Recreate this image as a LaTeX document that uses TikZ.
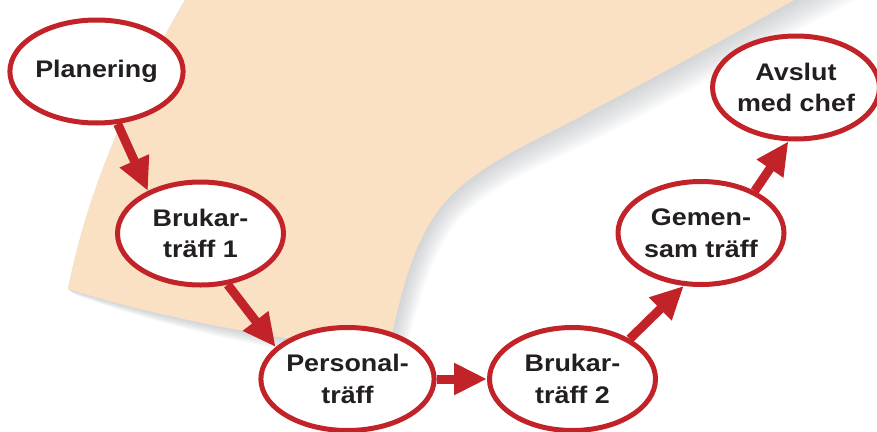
\documentclass[tikz,border=0pt]{standalone}
\usepackage{fontspec}
\setmainfont{Liberation Sans}[FakeStretch=1.12]
\usetikzlibrary{shapes.geometric,arrows.meta,calc}
\definecolor{peach}{RGB}{250,225,195}
\definecolor{redline}{RGB}{193,35,40}
\definecolor{shadowc}{RGB}{160,164,170}
\definecolor{txt}{RGB}{35,31,32}
\tikzset{
  stage/.style={ellipse, draw=redline, line width=5pt, fill=white,
    minimum width=166pt, minimum height=103pt, inner sep=0pt, align=center,
    text=txt, font=\fontsize{24}{31.5}\selectfont\bfseries},
  flow/.style={draw=redline, line width=9pt, -{Triangle[length=33pt,width=30pt]}}
}
\begin{document}
\begin{tikzpicture}[x=1pt,y=-1pt]
\useasboundingbox (0,0) rectangle (877,431);
\clip (0,0) rectangle (877,431);
% paper control points
\coordinate (A) at (188,-5);
\coordinate (B) at (68,289);   \coordinate (Bs) at (76,295);
\coordinate (b1) at (160,318); \coordinate (b1s) at (165,328);
\coordinate (b2) at (280,340); \coordinate (b2s) at (285,354);
\coordinate (C) at (388,352);  \coordinate (Cs) at (401,369);
\coordinate (c1) at (398,310); \coordinate (c1s) at (415,318);
\coordinate (c2) at (408,250); \coordinate (c2s) at (427,260);
\coordinate (D) at (440,208);  \coordinate (Ds) at (457,222);
\coordinate (d1) at (470,170); \coordinate (d1s) at (489,186);
\coordinate (d2) at (520,148); \coordinate (d2s) at (541,166);
\coordinate (E) at (570,122);  \coordinate (Es) at (597,139);
\coordinate (e1) at (640,85);  \coordinate (e1s) at (674,100);
\coordinate (e2) at (720,42);  \coordinate (e2s) at (768,45);
\coordinate (F) at (803,-5);   \coordinate (Fs) at (865,-5);
% shadow layers
\foreach \f in {0.1,0.2,0.3,0.4,0.5,0.6,0.7,0.8,0.9,1.0} {
  \fill[shadowc, opacity=0.06] (A) .. controls (135,85) and (90,180) .. (B)
    -- ($(B)!\f!(Bs)$) .. controls ($(b1)!\f!(b1s)$) and ($(b2)!\f!(b2s)$) .. ($(C)!\f!(Cs)$)
    .. controls ($(c1)!\f!(c1s)$) and ($(c2)!\f!(c2s)$) .. ($(D)!\f!(Ds)$)
    .. controls ($(d1)!\f!(d1s)$) and ($(d2)!\f!(d2s)$) .. ($(E)!\f!(Es)$)
    .. controls ($(e1)!\f!(e1s)$) and ($(e2)!\f!(e2s)$) .. ($(F)!\f!(Fs)$) -- cycle;
}
% paper
\fill[peach] (A) .. controls (135,85) and (90,180) .. (B)
  .. controls (b1) and (b2) .. (C)
  .. controls (c1) and (c2) .. (D)
  .. controls (d1) and (d2) .. (E)
  .. controls (e1) and (e2) .. (F) -- cycle;
% stages
\node[stage] (plan) at (96.5,71.5) {Planering};
\node[stage] (bru1) at (200.5,233.5) {Brukar-\\träff 1};
\node[stage] (pers) at (347.5,379) {Personal-\\träff};
\node[stage] (bru2) at (572.5,379) {Brukar-\\träff 2};
\node[stage] (gem) at (701,233) {Gemen-\\sam träff};
\node[stage] (avs) at (796,87.5) {Avslut\\med chef};
% connectors
\draw[flow] (plan.-68) -- (bru1.141);
\draw[flow] (bru1.-62) -- (pers.156);
\draw[flow] (pers.east) -- (bru2.west);
\draw[flow] (bru2.35) -- (gem.-108);
\draw[flow] (gem.38) -- (avs.-98);
\end{tikzpicture}
\end{document}
